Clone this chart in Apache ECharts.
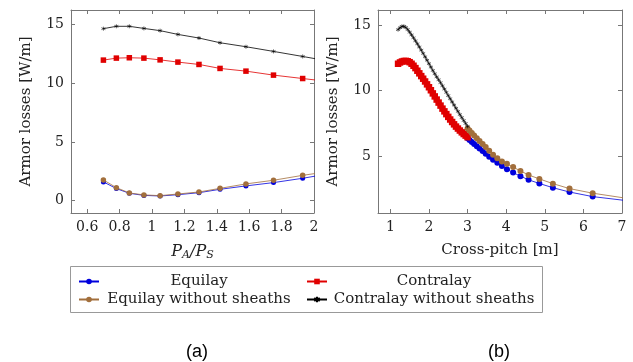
<!DOCTYPE html>
<html><head><meta charset="utf-8">
<script src="https://cdn.jsdelivr.net/npm/echarts@6/dist/echarts.min.js"></script>
<style>html,body{margin:0;padding:0;background:#fff}#c{width:633px;height:362px}</style>
</head><body><div id="c"></div>
<script>
// ---- Panel (a): armor losses vs P_A/P_S ----
const ratioA = [0.70,0.78,0.86,0.95,1.05,1.16,1.29,1.42,1.58,1.75,1.93,2.13];
const equilayA = [1.60,1.03,0.63,0.45,0.40,0.51,0.68,0.97,1.26,1.54,1.91,2.38];
const contralayA = [11.98,12.15,12.18,12.15,12.00,11.81,11.61,11.27,11.04,10.70,10.41,10.09];
const equilayNoSheathA = [1.77,1.11,0.66,0.49,0.43,0.57,0.74,1.05,1.43,1.74,2.16,2.56];
const contralayNoSheathA = [14.66,14.86,14.86,14.68,14.49,14.17,13.86,13.46,13.12,12.72,12.29,11.80];
const xTicksA = [0.6,0.8,1,1.2,1.4,1.6,1.8,2];
const yTicksA = [0,5,10,15];

// ---- Panel (b): armor losses vs cross-pitch ----
const pitchContra = [1.20,1.25,1.30,1.35,1.40,1.45,1.50,1.55,1.60,1.65,1.70,1.75,1.80,1.85,1.90,1.95,2.00,2.05,2.10,2.15,2.20,2.25,2.30,2.35,2.40,2.45,2.50,2.55,2.60,2.65,2.70,2.75,2.80,2.85,2.90,2.95,3.00];
const contralayB = [12.05,12.15,12.22,12.26,12.27,12.24,12.17,12.05,11.90,11.72,11.52,11.32,11.11,10.91,10.70,10.48,10.26,10.03,9.79,9.56,9.32,9.09,8.86,8.63,8.42,8.21,8.00,7.80,7.61,7.43,7.26,7.11,6.96,6.82,6.69,6.57,6.45];
const contralayNoSheathB = [14.65,14.80,14.90,14.91,14.82,14.66,14.46,14.25,14.03,13.80,13.57,13.33,13.09,12.84,12.58,12.32,12.06,11.80,11.54,11.29,11.05,10.83,10.61,10.37,10.12,9.87,9.62,9.38,9.14,8.90,8.66,8.42,8.18,7.95,7.72,7.50,7.28];
const pitchEqui = [3.00,3.05,3.11,3.17,3.24,3.31,3.39,3.47,3.56,3.66,3.77,3.89,4.02,4.18,4.37,4.58,4.86,5.21,5.64,6.24,7.10];
const equilayB = [6.37,6.24,6.09,5.94,5.76,5.59,5.39,5.18,4.96,4.74,4.50,4.25,4.01,3.75,3.48,3.20,2.92,2.60,2.27,1.92,1.62];
const equilayNoSheathB = [7.12,6.96,6.77,6.58,6.37,6.16,5.93,5.70,5.42,5.12,4.85,4.60,4.42,4.17,3.88,3.57,3.27,2.91,2.53,2.18,1.80];
const xTicksB = [1,2,3,4,5,6,7];
const yTicksB = [5,10,15];

const names = ['Equilay','Contralay','Equilay without sheaths','Contralay without sheaths'];
const colors = {eq:'#0000dd', co:'#e00000', eqn:'#a26f3c', con:'#000000'};
const STAR = 'path://M5 0L5 10M0.7 2.5L9.3 7.5M0.7 7.5L9.3 2.5';
const FONT = 'DejaVu Serif';
const TXT = '#222';
const FRAME = '#777';

function zip(xs, ys){ return xs.map((x,i)=>[x, ys[i]]); }

function mainX(grid, min, max, ticks, name, nameRich, gap){
  return {type:'value', gridIndex:grid, min:min, max:max, position:'bottom',
    axisLine:{show:true, onZero:false, lineStyle:{color:FRAME, width:1}},
    axisTick:{show:true, inside:true, length:4, customValues:ticks, lineStyle:{color:FRAME}},
    axisLabel:{customValues:ticks, margin:7, color:TXT, fontFamily:FONT, fontSize:14},
    splitLine:{show:false},
    name:name, nameLocation:'middle', nameGap:gap,
    nameTextStyle:Object.assign({color:TXT, fontFamily:FONT, fontSize:15}, nameRich?{rich:nameRich}:{})
  };
}
function mirrorX(grid, min, max, ticks){
  return {type:'value', gridIndex:grid, min:min, max:max, position:'top',
    axisLine:{show:true, onZero:false, lineStyle:{color:FRAME, width:1}},
    axisTick:{show:true, inside:true, length:4, customValues:ticks, lineStyle:{color:FRAME}},
    axisLabel:{show:false}, splitLine:{show:false}};
}
function mainY(grid, min, max, ticks, gap){
  return {type:'value', gridIndex:grid, min:min, max:max, position:'left',
    axisLine:{show:true, onZero:false, lineStyle:{color:FRAME, width:1}},
    axisTick:{show:true, inside:true, length:4, customValues:ticks, lineStyle:{color:FRAME}},
    axisLabel:{customValues:ticks, margin:7, color:TXT, fontFamily:FONT, fontSize:14},
    splitLine:{show:false},
    name:'Armor losses [W/m]', nameLocation:'middle', nameGap:gap,
    nameTextStyle:{color:TXT, fontFamily:FONT, fontSize:15}};
}
function mirrorY(grid, min, max, ticks){
  return {type:'value', gridIndex:grid, min:min, max:max, position:'right',
    axisLine:{show:true, onZero:false, lineStyle:{color:FRAME, width:1}},
    axisTick:{show:true, inside:true, length:4, customValues:ticks, lineStyle:{color:FRAME}},
    axisLabel:{show:false}, splitLine:{show:false}};
}

function ser(name, grid, data, color, symbol, size){
  const star = symbol === STAR;
  return {name:name, type:'line', xAxisIndex:grid*2, yAxisIndex:grid*2, data:data,
    clip:true, symbol:symbol, symbolSize:size, showAllSymbol:true,
    lineStyle:{color:color, width:0.8},
    itemStyle: star ? {color:color, borderColor:color, borderWidth:0.6} : {color:color, borderWidth:0},
    emphasis:{disabled:true}, animation:false};
}

const richPA = {
  i:{fontFamily:FONT, fontStyle:'italic', fontSize:16, color:TXT},
  s:{fontFamily:FONT, fontStyle:'italic', fontSize:11, color:TXT, verticalAlign:'bottom', padding:[7,0,0,0]}
};

const legendText = (w)=>({color:TXT, fontFamily:FONT, fontSize:15,
  rich:{c:{width:w, align:'center', fontFamily:FONT, fontSize:15, color:TXT, lineHeight:17}}});

const option = {
  animation:false,
  grid:[
    {left:71, top:10, width:243, height:203, containLabel:false},
    {left:378, top:10, width:244, height:203, containLabel:false}
  ],
  xAxis:[
    mainX(0, 0.5, 2, xTicksA, '{i|P}{s|A}{i|/P}{s|S}', richPA, 30),
    mirrorX(0, 0.5, 2, xTicksA),
    mainX(1, 0.68, 7, xTicksB, 'Cross-pitch [m]', null, 30),
    mirrorX(1, 0.68, 7, xTicksB)
  ],
  yAxis:[
    mainY(0, -1.05, 16.25, yTicksA, 37),
    mirrorY(0, -1.05, 16.25, yTicksA),
    mainY(1, 0.67, 16.15, yTicksB, 37),
    mirrorY(1, 0.67, 16.15, yTicksB)
  ],
  legend:[
    {data:[names[0], names[2]], orient:'vertical', left:73, top:269, itemWidth:20, itemHeight:7, itemGap:3,
     selectedMode:false, formatter:n=>'{c|'+n+'}', textStyle:legendText(190)},
    {data:[names[1], names[3]], orient:'vertical', left:301, top:269, itemWidth:20, itemHeight:7, itemGap:3,
     selectedMode:false, formatter:n=>'{c|'+n+'}', textStyle:legendText(204)}
  ],
  graphic:[
    {type:'rect', shape:{x:70.5, y:266.5, width:472, height:46}, style:{fill:'none', stroke:'#999', lineWidth:1}, silent:true},
    {type:'text', x:197, y:352, style:{text:'(a)', fontFamily:'Liberation Sans', fontSize:18, fill:'#000', align:'center', verticalAlign:'middle'}},
    {type:'text', x:499, y:352, style:{text:'(b)', fontFamily:'Liberation Sans', fontSize:18, fill:'#000', align:'center', verticalAlign:'middle'}}
  ],
  series:[
    ser(names[0], 0, zip(ratioA, equilayA), colors.eq, 'circle', 5),
    ser(names[1], 0, zip(ratioA, contralayA), colors.co, 'rect', 5.5),
    ser(names[2], 0, zip(ratioA, equilayNoSheathA), colors.eqn, 'circle', 5.5),
    ser(names[3], 0, zip(ratioA, contralayNoSheathA), colors.con, STAR, 4),
    ser(names[0], 1, zip(pitchEqui, equilayB), colors.eq, 'circle', 6),
    ser(names[1], 1, zip(pitchContra, contralayB), colors.co, 'rect', 6.5),
    ser(names[2], 1, zip(pitchEqui, equilayNoSheathB), colors.eqn, 'circle', 6),
    ser(names[3], 1, zip(pitchContra, contralayNoSheathB), colors.con, STAR, 4)
  ]
};
const chart = echarts.init(document.getElementById('c'), null, {renderer:'canvas'});
chart.setOption(option);
</script></body></html>
